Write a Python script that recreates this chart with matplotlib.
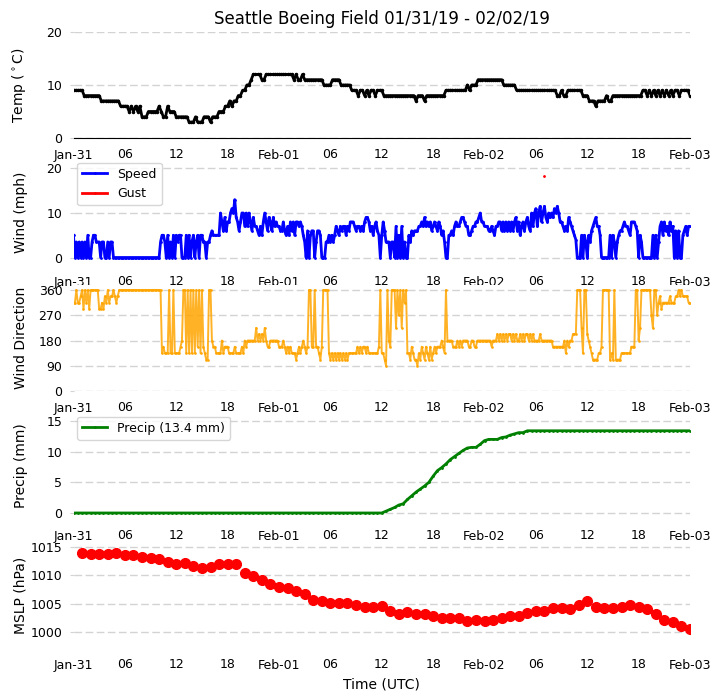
import datetime as dt
import numpy as np
import matplotlib
matplotlib.use('Agg')
import matplotlib.pyplot as plt
import matplotlib.dates as mdates

start = dt.datetime(2019, 1, 31)

# temperature, four readings per hour
temp = [
    9, 9, 9, 9, 9, 8, 8, 8, 8, 8, 8, 8, 8, 7, 7, 7, 7, 7, 7, 7, 7, 7, 6, 6,
    6, 6, 5, 6, 5, 6, 5, 6, 4, 4, 4, 5, 5, 5, 5, 5, 6, 5, 4, 4, 6, 5, 5, 5,
    4, 4, 4, 4, 4, 4, 3, 3, 3, 4, 3, 3, 3, 4, 4, 4, 3, 4, 4, 4, 5, 5, 5, 6,
    6, 7, 6, 7, 7, 8, 8, 9, 9, 10, 10, 11, 12, 12, 12, 12, 11, 11, 12, 12, 12, 12, 12, 12,
    12, 12, 12, 12, 12, 12, 12, 11, 12, 11, 11, 12, 11, 11, 11, 11, 11, 11, 11, 11, 11, 10, 10, 10,
    10, 11, 11, 11, 11, 10, 10, 10, 10, 10, 9, 9, 9, 8, 9, 9, 8, 9, 8, 9, 9, 8, 9, 9,
    9, 8, 8, 8, 8, 8, 8, 8, 8, 8, 8, 8, 8, 8, 8, 8, 7, 8, 8, 8, 7, 8, 8, 8,
    8, 8, 8, 8, 8, 8, 9, 9, 9, 9, 9, 9, 9, 9, 9, 9, 10, 9, 10, 10, 10, 11, 11, 11,
    11, 11, 11, 11, 11, 11, 11, 11, 11, 10, 10, 10, 10, 10, 10, 9, 9, 9, 9, 9, 9, 9, 9, 9,
    9, 9, 9, 9, 9, 9, 9, 9, 9, 9, 8, 8, 9, 8, 8, 9, 9, 9, 9, 9, 9, 9, 8, 8,
    8, 7, 7, 7, 6, 7, 7, 7, 7, 8, 7, 7, 8, 8, 8, 8, 8, 8, 8, 8, 8, 8, 8, 8,
    8, 8, 9, 9, 8, 9, 8, 9, 8, 9, 8, 9, 8, 9, 8, 9, 8, 9, 9, 8, 9, 9, 9, 9, 8,
]

# wind speed, six readings per hour
speed = [
    5, 0, 3.5, 0, 3.5, 0, 3.5, 0, 3.5, 0, 5, 0, 0, 3.5, 5, 5, 3.5, 3.5,
    3.5, 0, 3.5, 3.5, 0, 0, 3.5, 0, 3.5, 3.5, 0, 0, 0, 0, 0, 0, 0, 0,
    0, 0, 0, 0, 0, 0, 0, 0, 0, 0, 0, 0, 0, 0, 0, 0, 0, 0, 0, 0, 0, 0, 0, 0,
    0, 3.5, 5, 5, 3.5, 0, 5, 0, 3.5, 0, 5, 0, 5, 3.5, 5, 5, 0, 0,
    0, 5, 0, 5, 0, 3.5, 5, 0, 3.5, 5, 0, 5, 5, 3.5, 3.5, 0, 3.5, 3.5,
    5, 6, 5, 5, 5, 5, 5, 10, 8, 6, 9, 6, 8, 8, 10, 11, 10, 13,
    9, 8, 6, 8, 10, 10, 7, 10, 7, 10, 8, 6, 9, 7, 7, 6, 5, 7,
    5, 8, 10, 8, 6, 9, 8, 6, 9, 7, 8, 7, 7, 6, 6, 8, 6, 5,
    7, 5, 8, 6, 8, 5, 8, 8, 7, 8, 7, 5, 3.5, 0, 6, 0, 5, 6,
    6, 0, 3.5, 6, 6, 5, 0, 0, 0, 3.5, 3.5, 5, 3.5, 5, 3.5, 5, 7, 6,
    5, 7, 6, 7, 7, 5, 7, 6, 8, 8, 8, 7, 6, 7, 7, 6, 7, 6,
    8, 9, 9, 8, 6, 7, 5, 7, 8, 6, 5, 0, 5, 8, 6, 3.5, 3.5, 3.5,
    0, 3.5, 3.5, 0, 7, 0, 5, 0, 7, 0, 3.5, 0, 0, 5, 3.5, 6, 5, 6,
    6, 6, 7, 7, 8, 7, 9, 7, 8, 7, 8, 6, 7, 8, 7, 6, 8, 7,
    5, 6, 3.5, 0, 0, 5, 5, 6, 5, 7, 8, 7, 7, 8, 9, 9, 8, 7,
    7, 5, 5, 6, 7, 7, 8, 8, 9, 10, 8, 8, 7, 7, 7, 6, 6, 7,
    6, 5, 7, 7, 8, 8, 6, 8, 6, 8, 6, 8, 6, 8, 6, 8, 9, 6,
    8, 5, 7, 8, 6, 8, 9, 7, 6, 10, 7, 10, 11, 7, 10, 11.5, 8, 10,
    11.5, 9, 8, 10, 9, 10, 9, 11, 10, 11.5, 10, 8, 8, 7, 6, 7, 6, 9,
    8, 7, 6, 5, 4, 0, 0, 0, 5, 0, 5, 3.5, 0, 5, 3.5, 6, 7, 8,
    9, 7, 7, 5, 0, 0, 0, 0, 0, 0, 5, 0, 5, 3.5, 0, 3.5, 5, 6,
    6, 7, 8, 7, 7, 6, 5, 8, 8, 8, 7, 6, 0, 5, 3.5, 0, 0, 0,
    0, 0, 0, 0, 5, 0, 5, 0, 3.5, 7, 8, 5, 8, 6, 7, 5, 8, 6,
    7, 0, 6, 0, 6, 0, 0, 5, 6, 7, 5, 7, 7,
]

gust_hours = [55]
gust = [18.4]

# wind direction, six readings per hour
direction = [
    315, 315, 360, 315, 315, 338, 360, 292, 360, 315, 360, 292, 360, 360, 360, 360, 360, 360,
    292, 292, 315, 292, 338, 315, 360, 315, 338, 338, 360, 338, 315, 338, 360, 360, 360, 360,
    360, 360, 360, 360, 360, 360, 360, 360, 360, 360, 360, 360, 360, 360, 360, 360, 360, 360,
    360, 360, 360, 360, 360, 360, 360, 360, 135, 158, 135, 135, 135, 360, 135, 135, 360, 135,
    135, 135, 135, 158, 180, 360, 360, 135, 360, 135, 360, 135, 360, 135, 360, 158, 360, 135,
    360, 158, 135, 112, 112, 360, 360, 180, 158, 158, 135, 135, 135, 135, 180, 135, 158, 158,
    158, 135, 135, 135, 135, 158, 135, 135, 135, 135, 158, 135, 180, 158, 180, 180, 180, 180,
    180, 180, 225, 180, 203, 180, 203, 180, 225, 180, 158, 158, 180, 180, 180, 180, 180, 180,
    158, 158, 158, 180, 158, 135, 158, 135, 158, 135, 135, 135, 112, 135, 158, 135, 158, 180,
    158, 135, 158, 360, 360, 158, 158, 360, 158, 158, 135, 112, 158, 360, 360, 360, 360, 135,
    112, 135, 112, 135, 112, 135, 112, 135, 112, 135, 112, 135, 112, 135, 135, 135, 135, 135,
    135, 158, 135, 158, 135, 158, 158, 135, 158, 135, 135, 135, 135, 135, 135, 135, 158, 360,
    135, 135, 112, 90, 360, 180, 158, 360, 360, 360, 225, 360, 270, 360, 225, 360, 315, 360,
    135, 135, 112, 158, 135, 112, 112, 90, 135, 112, 158, 135, 112, 158, 135, 112, 158, 112,
    135, 158, 135, 158, 158, 158, 180, 158, 135, 360, 180, 180, 180, 180, 158, 158, 158, 180,
    158, 180, 158, 180, 180, 180, 180, 158, 158, 180, 180, 158, 158, 180, 180, 180, 180, 180,
    180, 180, 180, 180, 180, 158, 180, 180, 180, 203, 180, 203, 180, 203, 180, 203, 180, 203,
    203, 180, 203, 180, 203, 180, 180, 203, 180, 203, 180, 203, 203, 180, 203, 180, 203, 180,
    180, 180, 180, 203, 180, 180, 180, 180, 180, 180, 180, 180, 158, 158, 158, 158, 158, 158,
    158, 158, 180, 135, 180, 158, 180, 180, 203, 203, 203, 360, 360, 360, 225, 135, 360, 360,
    203, 180, 158, 135, 112, 112, 112, 112, 135, 135, 158, 360, 360, 360, 360, 360, 112, 135,
    112, 360, 112, 112, 112, 112, 135, 135, 135, 135, 135, 135, 135, 158, 158, 158, 360, 360,
    180, 225, 360, 360, 360, 360, 360, 360, 360, 270, 225, 360, 360, 270, 315, 338, 292, 315,
    315, 315, 315, 315, 338, 315, 315, 315, 338, 338, 360, 338, 360, 338, 338, 338, 338, 315, 315,
]

# accumulated precip, two readings per hour
precip = [0.0] * 72 + [
    0.0, 0.3, 0.6, 0.9, 1.3, 1.5, 2.2, 2.8, 3.4, 3.9, 4.4, 5.0, 6.0, 6.9, 7.4, 8.0,
    8.7, 9.2, 9.7, 10.2, 10.6, 10.7, 10.7, 11.2, 11.8, 12.0, 12.0, 12.0, 12.3, 12.4,
    12.7, 12.9, 13.1, 13.1, 13.4, 13.4,
] + [13.4] * 37

# pressure, hourly from 01 UTC
mslp = [
    1013.9, 1013.75, 1013.75, 1013.75, 1013.9, 1013.6, 1013.6, 1013.2, 1013.0, 1012.8,
    1012.3, 1012.0, 1012.1, 1011.6, 1011.3, 1011.5, 1012.0, 1012.0, 1012.0, 1010.4,
    1009.8, 1009.1, 1008.5, 1008.0, 1007.8, 1007.3, 1006.7, 1005.7, 1005.5, 1005.2,
    1005.2, 1005.2, 1004.8, 1004.5, 1004.5, 1004.6, 1003.7, 1003.2, 1003.5, 1003.2,
    1003.2, 1002.8, 1002.5, 1002.4, 1002.4, 1002.0, 1002.2, 1002.0, 1002.2, 1002.5,
    1002.9, 1002.9, 1003.4, 1003.7, 1003.7, 1004.3, 1004.3, 1004.1, 1004.8, 1005.4,
    1004.5, 1004.3, 1004.3, 1004.5, 1004.7, 1004.5, 1004.0, 1003.2, 1002.2, 1001.7,
    1001.0, 1000.6,
]


def times(n, per_hour, first=0):
    return [start + dt.timedelta(hours=first + i / per_hour) for i in range(n)]


fig, axes = plt.subplots(5, 1, figsize=(7.21, 7.0), dpi=100)

# panel bottoms in pixels from the top of the figure
bottoms = [138, 265, 391, 519, 648]
for ax, b in zip(axes, bottoms):
    ax.set_position([73.5 / 721, 1 - b / 700, 616.5 / 721, 106 / 700])

axes[0].plot(times(len(temp), 4), temp, color='black', lw=2, marker='.', ms=3)
axes[1].plot(times(len(speed), 6), speed, color='blue', lw=2, marker='.', ms=2, label='Speed')
axes[1].plot([start + dt.timedelta(hours=h) for h in gust_hours], gust, color='red', lw=2, marker='.', ms=2, label='Gust')
axes[2].plot(times(len(direction), 6), direction, color='orange', lw=1.4, alpha=0.85, marker='.', ms=2)
axes[3].plot(times(len(precip), 2), precip, color='green', lw=2, marker='.', ms=2, label='Precip (13.4 mm)')
axes[4].plot(times(len(mslp), 1, first=1), mslp, color='red', ls='none', marker='o', ms=7)

labels = ['Temp ($^\\circ$C)', 'Wind (mph)', 'Wind Direction', 'Precip (mm)', 'MSLP (hPa)']
ylims = [(0, 20), (-1.685, 22.13), (0, 378), (-0.98, 16.3), (997.18, 1015.88)]
yticks = [[0, 10, 20], [0, 10, 20], [0, 90, 180, 270, 360], [0, 5, 10, 15], [1000, 1005, 1010, 1015]]

for ax, label, lim, tk in zip(axes, labels, ylims, yticks):
    ax.set_xlim(start, start + dt.timedelta(hours=72))
    ax.set_ylim(lim)
    ax.set_yticks(tk)
    ax.set_ylabel(label, fontsize=10)
    ax.yaxis.set_label_coords(-0.074, 0.5)
    ax.xaxis.set_major_locator(mdates.DayLocator())
    ax.xaxis.set_major_formatter(mdates.DateFormatter('%b-%d'))
    ax.xaxis.set_minor_locator(mdates.HourLocator(byhour=[6, 12, 18]))
    ax.xaxis.set_minor_formatter(mdates.DateFormatter('%H'))
    ax.tick_params(axis='x', which='major', length=0, pad=8, labelsize=9)
    ax.tick_params(axis='x', which='minor', length=0, pad=7, labelsize=9)
    ax.tick_params(axis='y', length=3, color='lightgray', labelsize=9, pad=5)
    ax.grid(axis='y', color='lightgray', ls=(0, (5.5, 2.5)), lw=1)
    ax.set_axisbelow(True)
    for s in ax.spines.values():
        s.set_visible(False)

axes[0].spines['bottom'].set_visible(True)
axes[0].spines['bottom'].set_linewidth(0.8)
axes[0].set_title('Seattle Boeing Field 01/31/19 - 02/02/19', fontsize=12, pad=6)
axes[1].legend(loc='upper left', fontsize=9, borderaxespad=0.3)
axes[3].legend(loc='upper left', fontsize=9, borderaxespad=0.3)
axes[4].set_xlabel('Time (UTC)', fontsize=10)

fig.savefig('out.png', dpi=100)
